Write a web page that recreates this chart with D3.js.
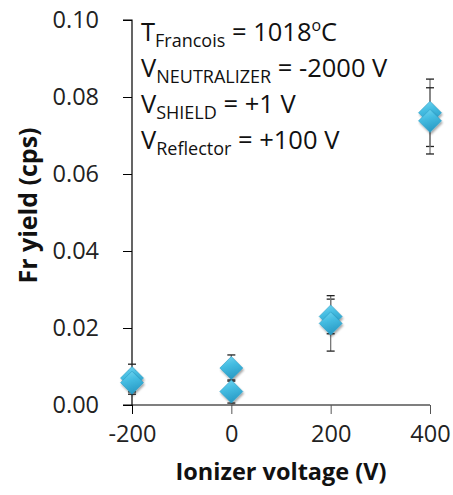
<!DOCTYPE html>
<html>
<head>
<meta charset="utf-8">
<script src="https://cdn.jsdelivr.net/npm/d3@7"></script>
<style>
  html, body { margin: 0; padding: 0; background: #fff; }
  svg { display: block; font-family: "Open Sans", Lato, sans-serif; }
</style>
</head>
<body>
<svg id="chart" width="453" height="495"></svg>
<script>
// ---- data ----
const voltages = [-200, -200, 0, 0, 200, 200, 400, 400];
const yields   = [0.0070, 0.0058, 0.0096, 0.0035, 0.0230, 0.0212, 0.0759, 0.0738];
const errors   = [0.0036, 0.0030, 0.0034, 0.0030, 0.0045, 0.0072, 0.00875, 0.0086];
const xTicks = [-200, 0, 200, 400];
const yTicks = [0.00, 0.02, 0.04, 0.06, 0.08, 0.10];
const xTitle = "Ionizer voltage (V)";
const yTitle = "Fr yield (cps)";
const notes = [
  ["T", "Francois", " = 1018", "o", "C"],
  ["V", "NEUTRALIZER", " = -2000 V", "", ""],
  ["V", "SHIELD", " = +1 V", "", ""],
  ["V", "Reflector", " = +100 V", "", ""]
];

const svg = d3.select("#chart");
const x = d3.scaleLinear().domain([-200, 400]).range([132, 430]);
const y = d3.scaleLinear().domain([0, 0.1]).range([405, 20]);

const defs = svg.append("defs");
const grad = defs.append("linearGradient").attr("id", "dg")
  .attr("x1", "0").attr("y1", "0").attr("x2", "0.3").attr("y2", "1");
grad.append("stop").attr("offset", "0%").attr("stop-color", "#78d8f2");
grad.append("stop").attr("offset", "45%").attr("stop-color", "#45bde2");
grad.append("stop").attr("offset", "100%").attr("stop-color", "#2a9cc6");
const filt = defs.append("filter").attr("id", "sh").attr("x", "-30%").attr("y", "-30%").attr("width", "160%").attr("height", "160%");
filt.append("feGaussianBlur").attr("in", "SourceAlpha").attr("stdDeviation", 1.2).attr("result", "b");
filt.append("feOffset").attr("in", "b").attr("dx", 1).attr("dy", 1.5).attr("result", "o");
filt.append("feComponentTransfer").attr("in", "o").attr("result", "o2")
  .append("feFuncA").attr("type", "linear").attr("slope", 0.35);
const fm = filt.append("feMerge");
fm.append("feMergeNode").attr("in", "o2");
fm.append("feMergeNode").attr("in", "SourceGraphic");

// axes
const yAxis = d3.axisLeft(y).tickValues(yTicks).tickFormat(d3.format(".2f")).tickSize(9).tickPadding(24);
const gy = svg.append("g").attr("transform", `translate(${x(-200)},0)`).call(yAxis);
const xAxis = d3.axisBottom(x).tickValues(xTicks).tickFormat(d3.format("d")).tickSize(9).tickPadding(11);
const gx = svg.append("g").attr("transform", `translate(0,${y(0)})`).call(xAxis);

[gy, gx].forEach(g => {
  g.select(".domain").attr("stroke", "#000").attr("stroke-width", 1.2);
  g.selectAll(".tick line").attr("stroke", "#000").attr("stroke-width", 1);
  g.selectAll(".tick text").attr("fill", "#222").style("font-size", "23.5px")
    .style("font-family", "'Open Sans', Lato, sans-serif");
});
gy.select(".domain").attr("d", `M-9,${y(0.1)}H0V${y(0)}`);
gx.select(".domain").attr("d", `M${x(-200) - 9},0H${x(400)}`);
gx.selectAll(".tick line").attr("stroke", "#555");
gx.selectAll(".tick").filter(d => d === -200).select("line").attr("stroke", "#000");
gx.selectAll(".tick text").text(d => d < 0 ? "-" + Math.abs(d) : d);

// titles
svg.append("text").attr("x", (x(-200) + x(400)) / 2).attr("y", 480)
  .attr("text-anchor", "middle").style("font-size", "23.5px").style("font-weight", "bold")
  .attr("fill", "#111").text(xTitle);
svg.append("text").attr("transform", `translate(37,${(y(0) + y(0.1)) / 2 - 7}) rotate(-90)`)
  .attr("text-anchor", "middle").style("font-size", "25px").style("font-weight", "bold")
  .attr("fill", "#111").text(yTitle);

// error bars
const pts = voltages.map((v, i) => ({ v, y: yields[i], e: errors[i] }));
const eb = svg.append("g");
pts.forEach(p => {
  eb.append("line").attr("x1", x(p.v)).attr("x2", x(p.v))
    .attr("y1", y(p.y + p.e)).attr("y2", y(p.y - p.e))
    .attr("stroke", "#777").attr("stroke-width", 1.3);
  [p.y + p.e, p.y - p.e].forEach(c => {
    eb.append("line").attr("x1", x(p.v) - 4).attr("x2", x(p.v) + 4)
      .attr("y1", y(c)).attr("y2", y(c)).attr("stroke", "#222").attr("stroke-width", 1.3);
  });
});

// diamonds
const h = 11.5;
svg.append("g").selectAll("path").data(pts).join("path")
  .attr("d", `M0,${-h}L${h},0L0,${h}L${-h},0Z`)
  .attr("transform", d => `translate(${x(d.v)},${y(d.y)})`)
  .attr("fill", "url(#dg)").attr("stroke", "#2b9dc6").attr("stroke-width", 0.6)
  .attr("filter", "url(#sh)");

// annotation
const ann = svg.append("g").style("font-size", "25.5px").attr("fill", "#111");
const baselines = [41, 77, 113, 149];
notes.forEach((n, i) => {
  const t = ann.append("text").attr("x", 141).attr("y", baselines[i]);
  t.append("tspan").text(n[0]);
  t.append("tspan").attr("dy", 6).style("font-size", "18px").text(n[1]);
  t.append("tspan").attr("dy", -6).text(n[2]);
  if (n[3]) {
    t.append("tspan").attr("dy", -10).style("font-size", "16px").text(n[3]);
    t.append("tspan").attr("dy", 10).text(n[4]);
  }
});
</script>
</body>
</html>
